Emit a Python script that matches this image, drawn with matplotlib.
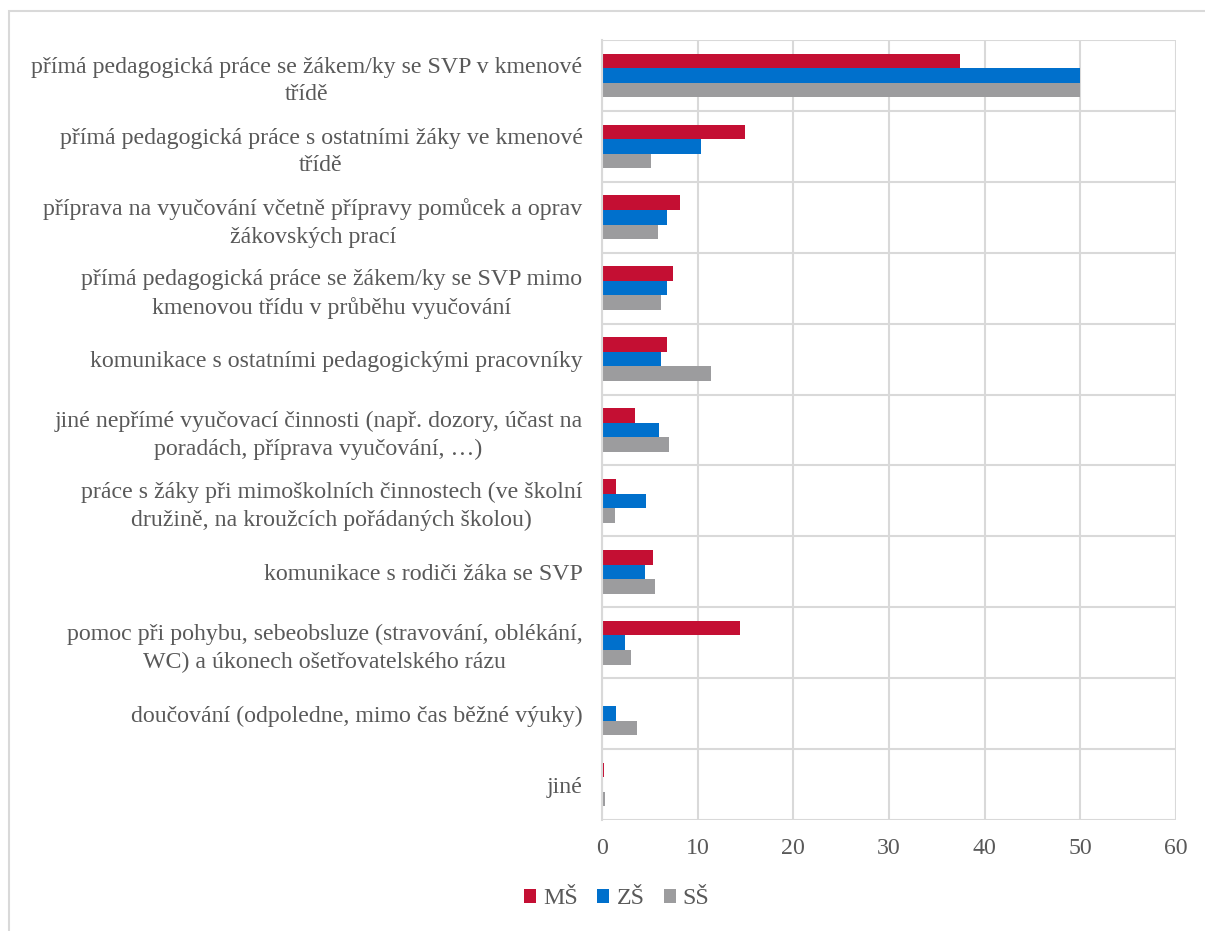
import matplotlib
matplotlib.use("Agg")
import matplotlib.pyplot as plt
import numpy as np
from matplotlib.patches import Rectangle

categories = [
    "přímá pedagogická práce se žákem/ky se SVP v kmenové\ntřídě",
    "přímá pedagogická práce s ostatními žáky ve kmenové\ntřídě",
    "příprava na vyučování včetně přípravy pomůcek a oprav\nžákovských prací",
    "přímá pedagogická práce se žákem/ky se SVP mimo\nkmenovou třídu v průběhu vyučování",
    "komunikace s ostatními pedagogickými pracovníky",
    "jiné nepřímé vyučovací činnosti (např. dozory, účast na\nporadách, příprava vyučování, …)",
    "práce s žáky při mimoškolních činnostech (ve školní\ndružině, na kroužcích pořádaných školou)",
    "komunikace s rodiči žáka se SVP",
    "pomoc při pohybu, sebeobsluze (stravování, oblékání,\nWC) a úkonech ošetřovatelského rázu",
    "doučování (odpoledne, mimo čas běžné výuky)",
    "jiné",
]
series_names = ["MŠ", "ZŠ", "SŠ"]
ms = [37.4, 14.9, 8.2, 7.4, 6.8, 3.4, 1.5, 5.3, 14.4, 0.0, 0.2]
zs = [50.0, 10.3, 6.8, 6.8, 6.2, 6.0, 4.6, 4.5, 2.4, 1.5, 0.1]
ss = [50.0, 5.1, 5.9, 6.2, 11.4, 7.0, 1.4, 5.5, 3.0, 3.7, 0.3]
xticks = [0, 10, 20, 30, 40, 50, 60]

colors = ["#C40F33", "#0070CC", "#9C9C9E"]
text_color = "#595959"
grid_color = "#D9D9D9"
fs = 17.2

plt.rcParams['font.family'] = ['Liberation Serif', 'DejaVu Serif']

fig = plt.figure(figsize=(12.05, 9.31), dpi=100)
ax = fig.add_axes([602/1205, 1 - 820/931, (1176-602)/1205, (820-40)/931])

n = len(categories)
ypos = np.arange(n)
bh = 0.205
for i, (vals, c) in enumerate(zip([ms, zs, ss], colors)):
    ax.barh(ypos + (i - 1) * bh, vals, height=bh, color=c, label=series_names[i])

ax.set_ylim(n - 0.5, -0.5)
ax.set_xlim(0, 60)
ax.set_xticks(xticks)
ax.set_yticks(ypos)
ax.set_yticklabels(categories, fontsize=fs, color=text_color, multialignment='center',
                   linespacing=1.4)
ax.tick_params(axis='y', length=0, pad=14)
ax.tick_params(axis='x', length=0, pad=13, labelsize=fs, labelcolor=text_color)

ax.set_axisbelow(True)
ax.xaxis.grid(True, color=grid_color, linewidth=1.5)
for b in np.arange(-0.5, n, 1.0):
    ax.axhline(b, color=grid_color, linewidth=1.5, zorder=0)
for s in ["top", "right", "bottom"]:
    ax.spines[s].set_visible(False)
ax.spines["left"].set_color(grid_color)
ax.spines["left"].set_linewidth(1.5)

leg = fig.legend(loc="center", bbox_to_anchor=(617/1205, 1 - 899/931), ncol=3, frameon=False,
                 fontsize=fs, handlelength=0.5, handleheight=0.5, handletextpad=0.3,
                 columnspacing=0.8)
for t in leg.get_texts():
    t.set_color(text_color)

fig.patches.append(Rectangle((9/1205, -0.01), 1.02, 1 - 11/931 + 0.01, transform=fig.transFigure,
                             fill=False, edgecolor=grid_color, linewidth=1.5))

fig.savefig("out.png", dpi=100)
